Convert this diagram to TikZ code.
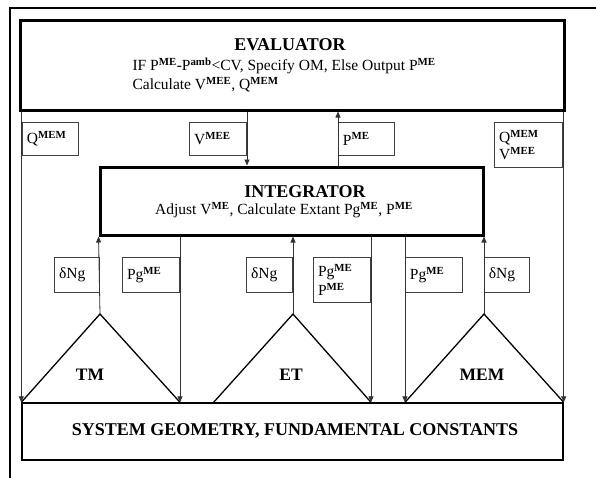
\documentclass[tikz,border=0pt]{standalone}
\usepackage{fontspec}
\setmainfont{Liberation Serif}
\usetikzlibrary{arrows.meta, positioning}
\newcommand{\spr}[1]{\textsuperscript{\bfseries #1}}
\begin{document}
\begin{tikzpicture}[
		x=1pt, y=-1pt,
		% Define styles
		mainbox/.style={rectangle, draw=black, line width=3pt, inner sep=0pt},
		basebox/.style={rectangle, draw=black, line width=1.4pt, inner sep=0pt},
		lbl/.style={rectangle, draw=black!75, line width=0.8pt, align=left, inner sep=4pt, font=\fontsize{15.5}{15}\selectfont},
		titletext/.style={font=\fontsize{18}{19}\selectfont\bfseries},
		bodytext/.style={font=\fontsize{15.5}{19}\selectfont, align=left},
		tritext/.style={font=\fontsize{17.5}{19}\selectfont\bfseries},
		arrow/.style={draw=black!80, line width=0.8pt, -{Triangle[length=6pt, width=5pt]}},
		triline/.style={draw=black, line width=1.3pt}
		]
		\useasboundingbox (0,0) rectangle (596,477);
		
		% Outer frame
		\draw[line width=2pt] (10,480) -- (10,8) -- (600,8);
		
		% Evaluator
		\node (eval) [mainbox, minimum width=544pt, minimum height=90pt] at (292,65) {};
		\node (evaltitle) [titletext] at (290,45) {EVALUATOR};
		\node (evaltext) [bodytext, anchor=west] at (129,75) {IF P\spr{ME}-P\spr{amb}<CV, Specify OM, Else Output P\spr{ME}\\Calculate V\spr{MEE}, Q\spr{MEM}};
		
		% Integrator
		\node (integ) [mainbox, minimum width=383pt, minimum height=68pt] at (291.5,201) {};
		\node (integtitle) [titletext] at (305,192) {INTEGRATOR};
		\node (integtext) [bodytext] at (284,210) {Adjust V\spr{ME}, Calculate Extant Pg\spr{ME}, P\spr{ME}};
		
		% System geometry
		\node (sys) [basebox, minimum width=541pt, minimum height=57pt] at (292.5,431.5) {};
		\node (systext) [titletext] at (295,431) {SYSTEM GEOMETRY, FUNDAMENTAL CONSTANTS};
		
		% Labels between evaluator and integrator
		\node (qmem) [lbl, anchor=north west, minimum width=56pt, minimum height=33pt, text width=47pt] at (22,122) {Q\spr{MEM}};
		\node (vmee) [lbl, anchor=north east, minimum width=57pt, minimum height=33pt, text width=48pt] at (247,122) {V\spr{MEE}};
		\node (pme) [lbl, anchor=north west, minimum width=56pt, minimum height=33pt, text width=47pt] at (338,122) {P\spr{ME}};
		\node (qv) [lbl, anchor=north east, minimum width=68pt, minimum height=45pt, text width=59pt] at (563,122) {Q\spr{MEM}\\[2pt]V\spr{MEE}};
		
		% Labels between integrator and modules
		\node (dng1) [lbl, anchor=north east, minimum width=45pt, minimum height=35pt, text width=36pt] at (100,257) {δNg};
		\node (pg1) [lbl, anchor=north east, minimum width=57pt, minimum height=35pt, text width=48pt] at (180,257) {Pg\spr{ME}};
		\node (dng2) [lbl, anchor=north east, minimum width=46pt, minimum height=35pt, text width=37pt] at (293,257) {δNg};
		\node (pgp) [lbl, anchor=north east, minimum width=57pt, minimum height=45pt, text width=48pt] at (371,257) {Pg\spr{ME}\\[2pt]P\spr{ME}};
		\node (pg3) [lbl, anchor=north west, minimum width=57pt, minimum height=35pt, text width=48pt] at (405,257) {Pg\spr{ME}};
		\node (dng3) [lbl, anchor=north west, minimum width=45pt, minimum height=35pt, text width=36pt] at (484,257) {δNg};
		
		% Module triangles
		\coordinate (tm) at (100,314);
		\coordinate (et) at (293,314);
		\coordinate (mem) at (484,314);
		\coordinate (etleft) at (213,403);
		\draw[triline] (sys.north west) -- (tm) -- (pg1.east |- sys.north);
		\draw[triline] (etleft) -- (et) -- (pgp.east |- sys.north);
		\draw[triline] (pg3.west |- sys.north) -- (mem) -- (sys.north east);
		\node (tmtext) [tritext] at (90,375) {TM};
		\node (ettext) [tritext] at (291,375) {ET};
		\node (memtext) [tritext] at (482,375) {MEM};
		
		% Draw arrows
		\draw [arrow] (sys.north west |- eval.south) -- (sys.north west);
		\draw [arrow] (vmee.east |- eval.south) -- (vmee.east |- integ.north);
		\draw [arrow] (pme.west |- integ.north) -- (pme.west |- eval.south);
		\draw [arrow] (sys.north east |- eval.south) -- (sys.north east);
		\draw [arrow] (tm) -- (integ.south west);
		\draw [arrow] (pg1.east |- integ.south) -- (pg1.east |- sys.north);
		\draw [arrow] (et) -- (et |- integ.south);
		\draw [arrow] (pgp.east |- integ.south) -- (pgp.east |- sys.north);
		\draw [arrow] (pg3.west |- integ.south) -- (pg3.west |- sys.north);
		\draw [arrow] (mem) -- (mem |- integ.south);
		
	\end{tikzpicture}
\end{document}
